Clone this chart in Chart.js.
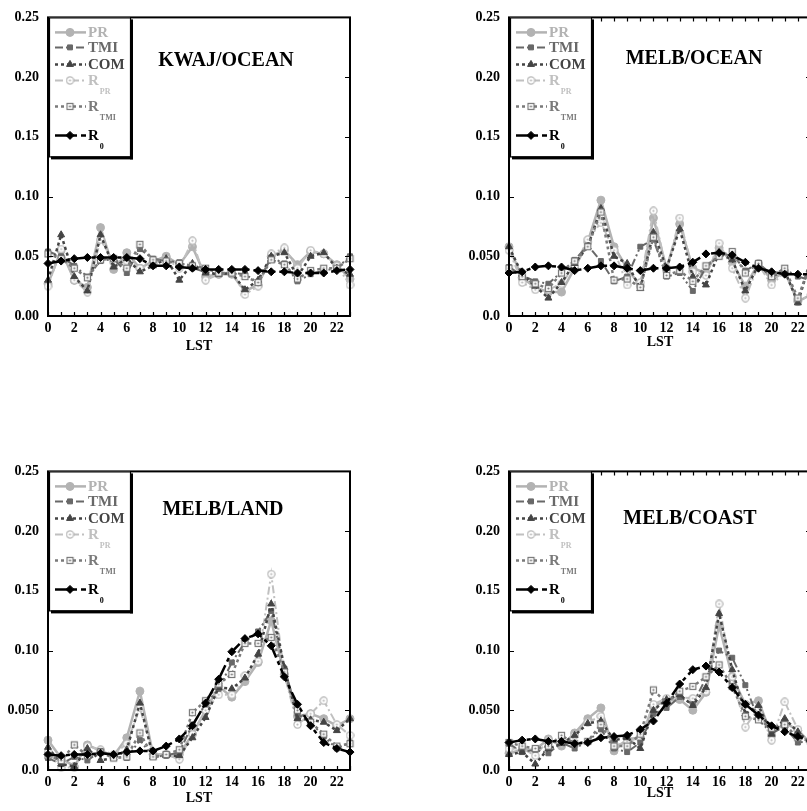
<!DOCTYPE html>
<html>
<head>
<meta charset="utf-8">
<script src="https://cdn.jsdelivr.net/npm/chart.js@4.4.1/dist/chart.umd.min.js"></script>
<style>
  html, body { margin: 0; padding: 0; background: #fff; }
  body { position: relative; width: 807px; height: 811px; overflow: hidden; }
  .panel { position: absolute; width: 400px; height: 400px; }
</style>
</head>
<body>
<div class="panel" style="left:0;top:0"><canvas id="kwajOcean" width="400" height="400"></canvas></div>
<div class="panel" style="left:461px;top:0"><canvas id="melbOcean" width="400" height="400"></canvas></div>
<div class="panel" style="left:0;top:454px"><canvas id="melbLand" width="400" height="400"></canvas></div>
<div class="panel" style="left:461px;top:454px"><canvas id="melbCoast" width="400" height="400"></canvas></div>
<script>
// Local solar time (hour of day)
const hours = [0, 1, 2, 3, 4, 5, 6, 7, 8, 9, 10, 11, 12, 13, 14, 15, 16, 17, 18, 19, 20, 21, 22, 23];
const xTicks = [0, 2, 4, 6, 8, 10, 12, 14, 16, 18, 20, 22];
const yTicks = [0, 0.05, 0.10, 0.15, 0.20, 0.25];
const yLabelsKwaj = ['0.00', '0.05', '0.10', '0.15', '0.20', '0.25'];
const yLabelsMelb = ['0.0', '0.050', '0.10', '0.15', '0.20', '0.25'];
const legendLabels = [['PR', ''], ['TMI', ''], ['COM', ''], ['R', 'PR'], ['R', 'TMI'], ['R', '0']];

// KWAJ / ocean
const kwajPR   = [0.027, 0.055, 0.030, 0.024, 0.074, 0.039, 0.053, 0.040, 0.046, 0.050, 0.043, 0.058, 0.033, 0.035, 0.035, 0.021, 0.026, 0.050, 0.055, 0.043, 0.054, 0.052, 0.043, 0.031];
const kwajTMI  = [0.054, 0.050, 0.042, 0.033, 0.046, 0.048, 0.036, 0.056, 0.048, 0.046, 0.045, 0.040, 0.037, 0.035, 0.036, 0.035, 0.028, 0.049, 0.044, 0.029, 0.035, 0.038, 0.040, 0.050];
const kwajCOM  = [0.030, 0.068, 0.033, 0.021, 0.068, 0.041, 0.048, 0.037, 0.042, 0.048, 0.030, 0.044, 0.036, 0.035, 0.036, 0.022, 0.030, 0.050, 0.053, 0.033, 0.050, 0.053, 0.040, 0.035];
const kwajRPR  = [0.025, 0.056, 0.030, 0.020, 0.064, 0.045, 0.046, 0.040, 0.044, 0.048, 0.040, 0.063, 0.030, 0.035, 0.037, 0.018, 0.025, 0.052, 0.057, 0.040, 0.055, 0.052, 0.042, 0.026];
const kwajRTMI = [0.052, 0.048, 0.040, 0.032, 0.047, 0.048, 0.040, 0.060, 0.047, 0.046, 0.044, 0.042, 0.040, 0.036, 0.036, 0.033, 0.028, 0.047, 0.043, 0.031, 0.038, 0.040, 0.040, 0.048];
const kwajR0   = [0.044, 0.046, 0.048, 0.049, 0.049, 0.049, 0.049, 0.048, 0.042, 0.042, 0.041, 0.040, 0.039, 0.039, 0.039, 0.039, 0.038, 0.037, 0.037, 0.036, 0.036, 0.036, 0.038, 0.039];

// MELB / ocean
const oceanPR   = [0.058, 0.032, 0.024, 0.020, 0.020, 0.040, 0.062, 0.097, 0.058, 0.040, 0.025, 0.082, 0.040, 0.077, 0.040, 0.036, 0.057, 0.045, 0.025, 0.044, 0.030, 0.037, 0.012, 0.018];
const oceanTMI  = [0.041, 0.034, 0.029, 0.027, 0.037, 0.047, 0.059, 0.046, 0.029, 0.033, 0.058, 0.064, 0.033, 0.036, 0.021, 0.041, 0.050, 0.052, 0.038, 0.044, 0.035, 0.039, 0.033, 0.030];
const oceanCOM  = [0.058, 0.035, 0.025, 0.015, 0.028, 0.044, 0.058, 0.090, 0.050, 0.044, 0.023, 0.070, 0.040, 0.073, 0.033, 0.026, 0.053, 0.047, 0.021, 0.043, 0.033, 0.038, 0.011, 0.048];
const oceanRPR  = [0.055, 0.028, 0.022, 0.022, 0.027, 0.042, 0.064, 0.078, 0.055, 0.026, 0.028, 0.088, 0.038, 0.082, 0.037, 0.034, 0.061, 0.040, 0.015, 0.043, 0.026, 0.037, 0.014, 0.016];
const oceanRTMI = [0.040, 0.033, 0.027, 0.023, 0.036, 0.046, 0.058, 0.087, 0.030, 0.031, 0.024, 0.066, 0.034, 0.038, 0.029, 0.042, 0.050, 0.054, 0.036, 0.044, 0.033, 0.040, 0.015, 0.045];
const oceanR0   = [0.036, 0.037, 0.041, 0.042, 0.041, 0.038, 0.040, 0.042, 0.042, 0.040, 0.038, 0.040, 0.040, 0.041, 0.045, 0.052, 0.053, 0.051, 0.045, 0.040, 0.037, 0.035, 0.035, 0.035];

// MELB / land
const landPR   = [0.025, 0.010, 0.003, 0.021, 0.016, 0.012, 0.027, 0.066, 0.013, 0.013, 0.013, 0.030, 0.050, 0.070, 0.061, 0.074, 0.090, 0.125, 0.080, 0.045, 0.047, 0.043, 0.037, 0.043];
const landTMI  = [0.010, 0.005, 0.011, 0.008, 0.016, 0.011, 0.010, 0.025, 0.011, 0.012, 0.015, 0.038, 0.055, 0.068, 0.090, 0.107, 0.116, 0.133, 0.085, 0.047, 0.040, 0.028, 0.018, 0.023];
const landCOM  = [0.019, 0.005, 0.003, 0.018, 0.008, 0.010, 0.017, 0.056, 0.011, 0.012, 0.012, 0.027, 0.044, 0.069, 0.068, 0.077, 0.097, 0.139, 0.086, 0.043, 0.042, 0.040, 0.033, 0.043];
const landRPR  = [0.015, 0.002, 0.002, 0.020, 0.017, 0.013, 0.022, 0.052, 0.013, 0.013, 0.009, 0.030, 0.050, 0.063, 0.063, 0.079, 0.091, 0.164, 0.080, 0.038, 0.047, 0.058, 0.038, 0.029];
const landRTMI = [0.012, 0.008, 0.021, 0.012, 0.015, 0.010, 0.011, 0.031, 0.011, 0.013, 0.017, 0.048, 0.058, 0.072, 0.080, 0.106, 0.106, 0.111, 0.082, 0.050, 0.040, 0.030, 0.020, 0.022];
const landR0   = [0.013, 0.012, 0.013, 0.013, 0.014, 0.013, 0.015, 0.016, 0.016, 0.020, 0.026, 0.037, 0.056, 0.076, 0.099, 0.110, 0.114, 0.104, 0.078, 0.055, 0.037, 0.023, 0.018, 0.015];

// MELB / coast
const coastPR   = [0.014, 0.017, 0.017, 0.026, 0.020, 0.031, 0.043, 0.052, 0.016, 0.026, 0.027, 0.053, 0.058, 0.059, 0.050, 0.065, 0.121, 0.078, 0.055, 0.058, 0.029, 0.040, 0.033, 0.022];
const coastTMI  = [0.022, 0.015, 0.017, 0.014, 0.023, 0.018, 0.024, 0.034, 0.018, 0.015, 0.023, 0.047, 0.052, 0.061, 0.055, 0.077, 0.100, 0.094, 0.071, 0.042, 0.031, 0.036, 0.023, 0.024];
const coastCOM  = [0.013, 0.015, 0.005, 0.018, 0.022, 0.029, 0.039, 0.041, 0.025, 0.027, 0.018, 0.050, 0.059, 0.063, 0.054, 0.069, 0.131, 0.084, 0.047, 0.054, 0.030, 0.043, 0.032, 0.022];
const coastRPR  = [0.018, 0.018, 0.012, 0.025, 0.022, 0.029, 0.040, 0.045, 0.020, 0.024, 0.027, 0.055, 0.060, 0.061, 0.060, 0.066, 0.139, 0.078, 0.036, 0.052, 0.025, 0.057, 0.034, 0.022];
const coastRTMI = [0.023, 0.020, 0.018, 0.020, 0.029, 0.022, 0.024, 0.038, 0.020, 0.020, 0.030, 0.067, 0.056, 0.066, 0.070, 0.078, 0.088, 0.070, 0.045, 0.042, 0.035, 0.038, 0.027, 0.024];
const coastR0   = [0.023, 0.025, 0.026, 0.024, 0.024, 0.022, 0.023, 0.027, 0.028, 0.029, 0.034, 0.041, 0.056, 0.072, 0.084, 0.087, 0.082, 0.069, 0.055, 0.046, 0.037, 0.032, 0.028, 0.024];

const SERIF = '"Liberation Serif", "DejaVu Serif", serif';

// open marker with a centre dot, used for the R_PR / R_TMI series
function ringDot(color, square) {
  const c = document.createElement('canvas');
  c.width = 9; c.height = 9;
  const g = c.getContext('2d');
  g.fillStyle = '#fff';
  g.strokeStyle = color;
  g.lineWidth = 1.2;
  if (square) {
    g.fillRect(1.5, 1.5, 6, 6);
    g.strokeRect(1.5, 1.5, 6, 6);
  } else {
    g.beginPath();
    g.arc(4.5, 4.5, 3.6, 0, Math.PI * 2);
    g.fill();
    g.stroke();
  }
  g.fillStyle = color;
  g.beginPath();
  g.arc(4.5, 4.5, 1.1, 0, Math.PI * 2);
  g.fill();
  return c;
}

// line/marker style per series: PR, TMI, COM, R_PR, R_TMI, R_0
const seriesStyles = [
  { color: '#b3b3b3', text: '#b3b3b3', width: 2.5, dash: [], point: 'circle', radius: 4, order: 5 },
  { color: '#686868', text: '#686868', width: 2, dash: [8, 3, 2, 3, 2, 3], point: 'rect', radius: 3.5, order: 3 },
  { color: '#444444', text: '#444444', width: 2.5, dash: [3, 3], point: 'triangle', radius: 4, order: 2 },
  { color: '#c0c0c0', text: '#c0c0c0', width: 2, dash: [8, 3, 2, 3], point: ringDot('#b8b8b8', false), radius: 4, order: 4 },
  { color: '#7a7a7a', text: '#7a7a7a', width: 2.5, dash: [3, 3], point: ringDot('#777777', true), radius: 4, order: 1 },
  { color: '#000000', text: '#000000', width: 2.5, dash: [14, 4, 4, 4], point: 'rectRot', radius: 4, order: 0 }
];

// legend row offsets below the plot top
const legendRows = [15, 30, 47, 63, 89, 118];

const framePlugin = {
  id: 'frame',
  afterDraw(chart, args, opts) {
    const { ctx, chartArea: a, scales } = chart;
    const x = scales.x, y = scales.y;
    ctx.save();

    // inward tick marks
    ctx.strokeStyle = '#000';
    ctx.lineWidth = 1.2;
    ctx.setLineDash([]);
    ctx.beginPath();
    hours.forEach(h => {
      const px = Math.round(x.getPixelForValue(h)) + 0.5;
      ctx.moveTo(px, a.bottom);
      ctx.lineTo(px, a.bottom - 4);
      if (opts.topTicks) {
        ctx.moveTo(px, a.top);
        ctx.lineTo(px, a.top + 4);
      }
    });
    yTicks.forEach(v => {
      const py = Math.round(y.getPixelForValue(v)) + 0.5;
      ctx.moveTo(a.left, py);
      ctx.lineTo(a.left + 5, py);
      ctx.moveTo(a.right, py);
      ctx.lineTo(a.right - 5, py);
    });
    ctx.stroke();

    // plot frame
    ctx.lineWidth = 2;
    ctx.strokeRect(a.left, a.top, a.right - a.left, a.bottom - a.top);

    // panel label
    ctx.fillStyle = '#000';
    ctx.font = 'bold 20px ' + SERIF;
    ctx.textAlign = 'center';
    ctx.textBaseline = 'middle';
    ctx.fillText(opts.label, a.left + opts.labelX, a.top + opts.labelY);

    // legend box with drop shadow
    const bx = a.left + 1, by = a.top, bw = 81, bh = 139;
    ctx.fillStyle = '#fff';
    ctx.fillRect(bx, by, bw, bh);
    ctx.lineWidth = 1.2;
    ctx.strokeStyle = '#000';
    ctx.strokeRect(bx + 0.5, by + 0.5, bw, bh);
    ctx.fillStyle = '#000';
    ctx.fillRect(bx + bw, by + 2, 3, bh + 1);
    ctx.fillRect(bx + 2, by + bh, bw + 1, 3);

    legendLabels.forEach((lab, i) => {
      const s = seriesStyles[i];
      const yy = by + legendRows[i];
      ctx.strokeStyle = s.color;
      ctx.lineWidth = s.width;
      ctx.setLineDash(s.dash);
      ctx.beginPath();
      ctx.moveTo(bx + 6, yy);
      ctx.lineTo(bx + 37, yy);
      ctx.stroke();
      ctx.setLineDash([]);
      ctx.fillStyle = s.color;
      ctx.lineWidth = 1;
      Chart.helpers.drawPoint(ctx, { pointStyle: s.point, radius: s.radius, borderWidth: 1, rotation: 0 }, bx + 21, yy);

      ctx.fillStyle = s.text;
      ctx.textAlign = 'left';
      ctx.textBaseline = 'middle';
      ctx.font = 'bold 15px ' + SERIF;
      ctx.fillText(lab[0], bx + 39, yy + 1);
      if (lab[1]) {
        const w = ctx.measureText(lab[0]).width;
        ctx.font = 'bold 8px ' + SERIF;
        ctx.fillText(lab[1], bx + 40 + w, yy + 12);
      }
    });
    ctx.restore();
  }
};

function makePanel(canvasId, cfg) {
  const datasets = cfg.series.map((vals, i) => {
    const s = seriesStyles[i];
    return {
      label: legendLabels[i].join(''),
      data: hours.map((h, k) => ({ x: h, y: vals[k] })),
      borderColor: s.color,
      backgroundColor: s.color,
      borderWidth: s.width,
      borderDash: s.dash,
      pointStyle: s.point,
      pointRadius: s.radius,
      pointBackgroundColor: s.color,
      pointBorderColor: s.color,
      pointBorderWidth: 1,
      tension: 0,
      clip: false,
      order: s.order
    };
  });

  return new Chart(document.getElementById(canvasId), {
    type: 'line',
    data: { datasets },
    options: {
      responsive: false,
      animation: false,
      events: [],
      layout: { padding: { top: 15, right: 50, left: 0, bottom: 84 - cfg.axisH } },
      plugins: {
        legend: { display: false },
        tooltip: { enabled: false },
        frame: { label: cfg.label, labelX: cfg.labelX, labelY: cfg.labelY, topTicks: cfg.topTicks }
      },
      scales: {
        x: {
          type: 'linear',
          min: 0,
          max: 23,
          grid: { display: false, drawTicks: false },
          border: { display: false },
          afterBuildTicks: scale => { scale.ticks = xTicks.map(v => ({ value: v })); },
          afterFit: scale => { scale.height = cfg.axisH; },
          ticks: {
            padding: 4,
            color: '#000',
            font: { family: SERIF, size: 14, weight: 'bold' },
            callback: v => String(v)
          },
          title: {
            display: true,
            text: 'LST',
            color: '#000',
            padding: 0,
            font: { family: SERIF, size: 14, weight: 'bold' }
          }
        },
        y: {
          min: 0,
          max: 0.25,
          grid: { display: false, drawTicks: false },
          border: { display: false },
          afterBuildTicks: scale => { scale.ticks = yTicks.map(v => ({ value: v })); },
          afterFit: scale => { scale.width = 48; },
          ticks: {
            padding: 9,
            color: '#000',
            font: { family: SERIF, size: 14, weight: 'bold' },
            callback: (v, i) => cfg.yLabels[i]
          }
        }
      }
    },
    plugins: [framePlugin]
  });
}

makePanel('kwajOcean', {
  label: 'KWAJ/OCEAN', labelX: 178, labelY: 43, topTicks: false, axisH: 39, yLabels: yLabelsKwaj,
  series: [kwajPR, kwajTMI, kwajCOM, kwajRPR, kwajRTMI, kwajR0]
});
makePanel('melbOcean', {
  label: 'MELB/OCEAN', labelX: 185, labelY: 41, topTicks: true, axisH: 35, yLabels: yLabelsMelb,
  series: [oceanPR, oceanTMI, oceanCOM, oceanRPR, oceanRTMI, oceanR0]
});
makePanel('melbLand', {
  label: 'MELB/LAND', labelX: 175, labelY: 38, topTicks: false, axisH: 37, yLabels: yLabelsMelb,
  series: [landPR, landTMI, landCOM, landRPR, landRTMI, landR0]
});
makePanel('melbCoast', {
  label: 'MELB/COAST', labelX: 181, labelY: 47, topTicks: true, axisH: 32, yLabels: yLabelsMelb,
  series: [coastPR, coastTMI, coastCOM, coastRPR, coastRTMI, coastR0]
});
</script>
</body>
</html>
